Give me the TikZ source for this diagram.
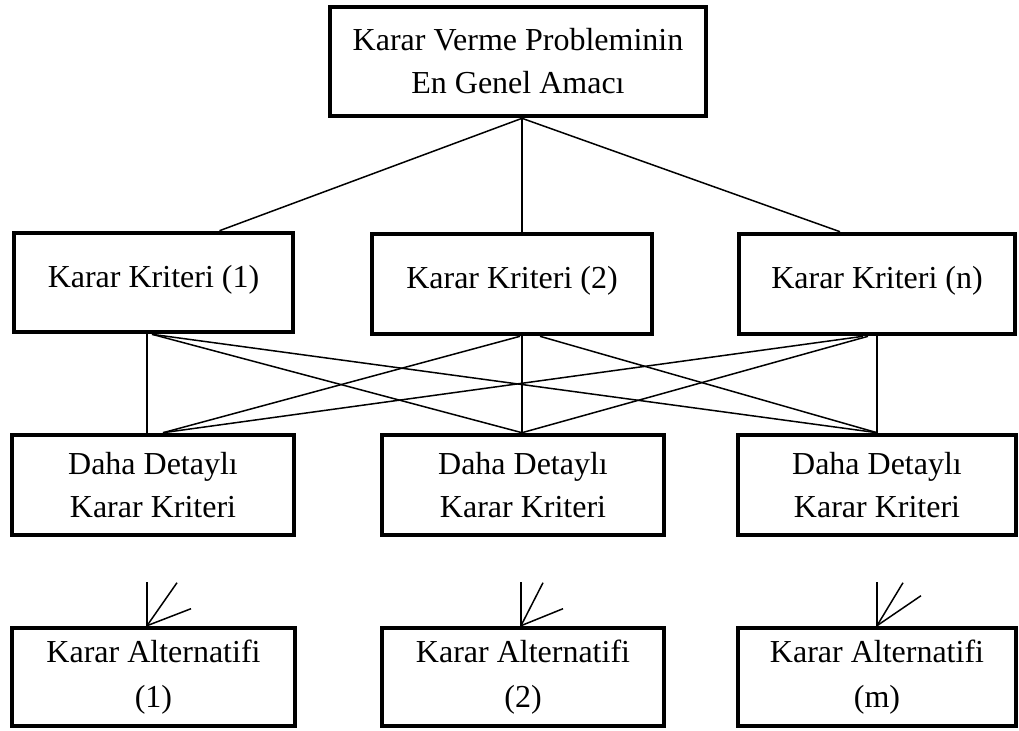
\documentclass[tikz,border=0pt]{standalone}
\usepackage{fontspec}
\setmainfont{Liberation Serif}
\usetikzlibrary{calc}
\begin{document}
\begin{tikzpicture}[x=0.5pt,y=-0.5pt,
  box/.style={draw, line width=2.3pt, rectangle, inner sep=0pt, align=center,
    font=\fontsize{16}{21.5}\selectfont},
  onerow/.style={box, text height=12pt, text depth=7.5pt},
  tworow/.style={box, text height=12pt, text depth=29pt},
  link/.style={line width=0.75pt}]
\useasboundingbox (0,0) rectangle (1019,730);

% goal
\node[box, minimum width=188pt, minimum height=54.5pt] (top) at (518,61.5)
  {Karar Verme Probleminin\\En Genel Amacı};

% criteria
\node[onerow, minimum width=139.5pt, minimum height=49.5pt] (k1) at (153.5,282.5) {Karar Kriteri (1)};
\node[onerow, minimum width=140pt, minimum height=50pt] (k2) at (512,284) {Karar Kriteri (2)};
\node[onerow, minimum width=138pt, minimum height=50pt] (kn) at (877,284) {Karar Kriteri (n)};

% detailed criteria
\node[box, minimum width=141pt, minimum height=50pt] (d1) at (153,485) {Daha Detaylı\\Karar Kriteri};
\node[box, minimum width=141pt, minimum height=50pt] (d2) at (523,485) {Daha Detaylı\\Karar Kriteri};
\node[box, minimum width=139pt, minimum height=50pt] (d3) at (877,485) {Daha Detaylı\\Karar Kriteri};

% alternatives
\node[box, minimum width=141.5pt, minimum height=49pt, font=\fontsize{16}{22.5}\selectfont] (a1) at (153.5,677) {Karar Alternatifi\\(1)};
\node[box, minimum width=141pt, minimum height=49pt, font=\fontsize{16}{22.5}\selectfont] (a2) at (523,677) {Karar Alternatifi\\(2)};
\node[box, minimum width=139pt, minimum height=49pt, font=\fontsize{16}{22.5}\selectfont] (a3) at (877,677) {Karar Alternatifi\\(m)};

% goal -> criteria
\draw[link] ($(top.south)+(4,0)$) -- ($(k1.north)+(66,0)$);
\draw[link] ($(top.south)+(4,0)$) -- ($(k2.north)+(10,0)$);
\draw[link] ($(top.south)+(4,0)$) -- ($(kn.north)+(-37,0)$);

% criteria -> detailed criteria
\draw[link] ($(k1.south)+(-6.5,0)$) -- ($(d1.north)+(-6,0)$);
\draw[link] ($(k1.south)+(-1.5,0)$) -- ($(d2.north)+(-1,0)$);
\draw[link] ($(k1.south)+(-1.5,0)$) -- (d3.north);
\draw[link] ($(k2.south)+(8,0)$) -- ($(d1.north)+(10,0)$);
\draw[link] ($(k2.south)+(10,0)$) -- ($(d2.north)+(-1,0)$);
\draw[link] ($(k2.south)+(28,0)$) -- (d3.north);
\draw[link] ($(kn.south)+(-14,0)$) -- ($(d1.north)+(10,0)$);
\draw[link] ($(kn.south)+(-9,0)$) -- ($(d2.north)+(-1,0)$);
\draw[link] (kn.south) -- (d3.north);

% open fans above the alternatives
\coordinate (f1) at ($(a1.north)+(-6.5,0)$);
\coordinate (f2) at ($(a2.north)+(-2,0)$);
\coordinate (f3) at (a3.north);
\draw[link] (f1) -- ++(0,-44);
\draw[link] (f1) -- ++(30,-43);
\draw[link] (f1) -- ++(44,-17);
\draw[link] (f2) -- ++(0,-44);
\draw[link] (f2) -- ++(22,-43);
\draw[link] (f2) -- ++(42,-17);
\draw[link] (f3) -- ++(0,-44);
\draw[link] (f3) -- ++(26,-43);
\draw[link] (f3) -- ++(44,-30);
\end{tikzpicture}
\end{document}
